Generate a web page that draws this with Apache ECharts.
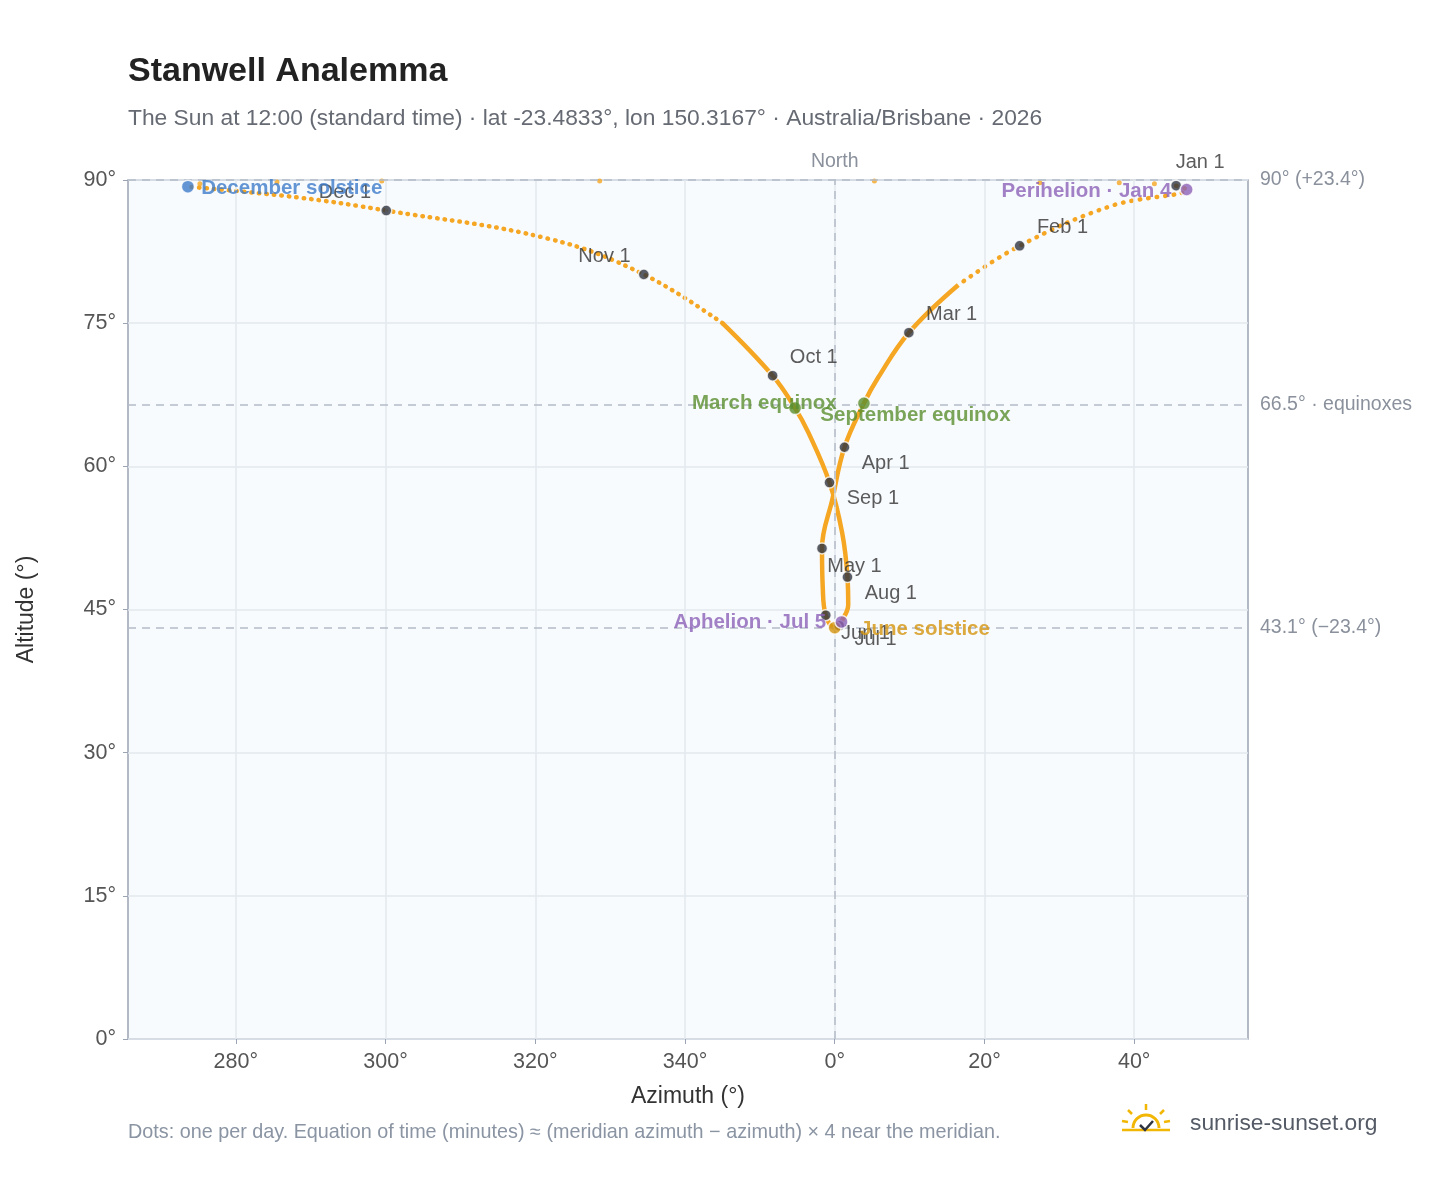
<!DOCTYPE html>
<html><head><meta charset="utf-8">
<script src="https://cdn.jsdelivr.net/npm/echarts@6/dist/echarts.min.js"></script>
<style>html,body{margin:0;padding:0;background:#fff}#c{width:1448px;height:1188px}</style>
</head><body><div id="c"></div>
<script>
// Path of the sun (azimuth unwrapped: negative = west of north, altitude), Jan 1 -> Dec 21
const pathAz  = [45.6, 47.0, 37.0, 24.7, 16.5, 9.9, 5.8, 3.9, 1.3, -0.3, -1.7, -1.6, -1.2, 0.0, 0.6, 0.9, 1.8, 1.7, 1.0, -0.7, -3.5, -5.3, -8.3, -15.0, -25.5, -38.0, -59.9, -72.0, -86.4];
const pathAlt = [89.4, 89.0, 87.3, 83.1, 79.0, 74.0, 69.3, 66.6, 62.0, 56.6, 51.4, 47.3, 44.4, 43.1, 43.3, 43.7, 45.5, 48.4, 53.0, 58.3, 63.5, 66.1, 69.5, 75.0, 80.1, 83.8, 86.8, 88.2, 89.3];
// Late-December days near the zenith
const topAz  = [-84.8, -74.5, -60.5, -31.4, 5.3, 27.4, 38.0, 42.7];
const topAlt = [89.6, 89.8, 89.9, 89.9, 89.9, 89.7, 89.7, 89.6];
// Month markers
const monthNames = ['Jan 1','Feb 1','Mar 1','Apr 1','May 1','Jun 1','Jul 1','Aug 1','Sep 1','Oct 1','Nov 1','Dec 1'];
const monthAz  = [45.6, 24.7, 9.9, 1.3, -1.7, -1.2, 0.6, 1.7, -0.7, -8.3, -25.5, -59.9];
const monthAlt = [89.4, 83.1, 74.0, 62.0, 51.4, 44.4, 43.3, 48.4, 58.3, 69.5, 80.1, 86.8];
// Events
const eventNames = ['December solstice','Perihelion · Jan 4','March equinox','September equinox','June solstice','Aphelion · Jul 5'];
const eventAz  = [-86.4, 47.0, 3.9, -5.3, 0.0, 0.9];
const eventAlt = [89.3, 89.0, 66.6, 66.1, 43.1, 43.7];
const xTicks = [-80, -60, -40, -20, 0, 20, 40];
const refLines = [90, 66.5, 43.1];
const refLabels = ['90° (+23.4°)', '66.5° · equinoxes', '43.1° (−23.4°)'];

const ch = echarts.init(document.getElementById('c'));
const F = 'Liberation Sans, Arial, sans-serif';
const evColor = ['#3d7cc9','#8c62b8','#5a8f2e','#5a8f2e','#d4950e','#8c62b8'];
const evLabel = [
  {position:'right', distance:6, offset:[0,2]},
  {position:'left', distance:8, offset:[0,2]},
  {position:'left', distance:20},
  {position:'right', distance:18, offset:[0,7]},
  {position:'right', distance:6, offset:[12,2]},
  {position:'left', distance:8}
];
const monLabel = [
  {position:'top', offset:[24,-2]},
  {position:'right', offset:[6,-18]},
  {position:'right', offset:[6,-18]},
  {position:'right', offset:[6,16]},
  {position:'right', offset:[-6,18]},
  {position:'right', offset:[4,18]},
  {position:'right', offset:[4,14]},
  {position:'right', offset:[6,16]},
  {position:'right', offset:[6,16]},
  {position:'right', offset:[6,-18]},
  {position:'left', offset:[-2,-18]},
  {position:'left', offset:[-4,-18]}
];
const seg = (a,b)=>pathAz.slice(a,b).map((v,i)=>[v,pathAlt[a+i]]);
const grid = {left:128, right:200, top:180, bottom:149};
ch.setOption({
  animation:false,
  textStyle:{fontFamily:F},
  title:[
    {text:'Stanwell Analemma', left:123, top:50, textStyle:{fontSize:34, fontWeight:'bold', color:'#222', fontFamily:F}},
    {text:'The Sun at 12:00 (standard time) · lat -23.4833°, lon 150.3167° · Australia/Brisbane · 2026', left:123, top:102, textStyle:{fontSize:22.8, fontWeight:'normal', color:'#666a73', fontFamily:F}}
  ],
  grid: Object.assign({show:true, backgroundColor:'#f8fbfe', borderColor:'#9aa4b2', borderWidth:1.5}, grid),
  xAxis:{type:'value', min:-94.4, max:55.2, name:'Azimuth (°)', nameLocation:'middle', nameGap:46,
    nameTextStyle:{fontSize:23, color:'#333'},
    axisLine:{show:false, onZero:false}, axisTick:{show:true, customValues:xTicks, lineStyle:{color:'#9aa4b2'}},
    axisLabel:{customValues:xTicks, fontSize:21.5, color:'#555', margin:12, formatter:v=>(((v%360)+360)%360)+'°'},
    splitLine:{show:false}},
  yAxis:{type:'value', min:0, max:90, interval:15, name:'Altitude (°)', nameLocation:'middle', nameGap:90,
    nameTextStyle:{fontSize:23, color:'#333'},
    axisLine:{show:false, onZero:false}, axisTick:{show:true, lineStyle:{color:'#9aa4b2'}},
    axisLabel:{fontSize:21.5, color:'#555', margin:12, formatter:v=>v+'°'},
    splitLine:{lineStyle:{color:'#e3e8ee', width:1.5}}},
  series:[
    {type:'line', silent:true, data:[], symbol:'none',
     markLine:{silent:true, symbol:'none', label:{show:false},
       lineStyle:{color:'#e3e8ee', type:'solid', width:1.5},
       data: xTicks.map(v=>({xAxis:v}))}},
    {type:'line', silent:true, data:[], symbol:'none',
     markLine:{silent:true, symbol:'none',
       lineStyle:{color:'#b4bcc7', type:[8,6], width:1.5},
       data: refLines.map((v,i)=>({yAxis:v, label:{show:true, position:'end', formatter:refLabels[i], color:'#8a919c', fontSize:19.5, distance:12}}))
         .concat([{xAxis:0, label:{show:true, position:'end', formatter:'North', color:'#8a919c', fontSize:19.5, distance:8}}])}},
    {type:'line', smooth:0.4, symbol:'none', data: seg(0,5), lineStyle:{color:'#f5a623', width:4.5, type:[0.5,8], cap:'round'}, z:3},
    {type:'line', smooth:0.4, symbol:'none', data: seg(4,24), lineStyle:{color:'#f5a623', width:4.5}, z:3},
    {type:'line', smooth:0.4, symbol:'none', data: seg(23,29), lineStyle:{color:'#f5a623', width:4.5, type:[0.5,7], cap:'round'}, z:3},
    {type:'scatter', symbolSize:5, data: topAz.map((v,i)=>[v,topAlt[i]]), itemStyle:{color:'#f5a623'}, z:3},
    {type:'scatter', symbolSize:11, z:5,
     data: monthAz.map((v,i)=>({value:[v,monthAlt[i]], label:Object.assign({show:true, formatter:monthNames[i], color:'#333', fontSize:20}, monLabel[i])})),
     itemStyle:{color:'#2e3440', borderColor:'#fff', borderWidth:1.5}},
    {type:'scatter', symbolSize:13, z:6,
     data: eventAz.map((v,i)=>({value:[v,eventAlt[i]], itemStyle:{color:evColor[i]},
       label:Object.assign({show:true, formatter:eventNames[i], color:evColor[i], fontSize:20.5, fontWeight:'bold'}, evLabel[i])})),
     itemStyle:{borderColor:'#fff', borderWidth:1.5}}
  ],
  graphic:[
    {type:'text', left:128, top:1123, style:{text:'Dots: one per day. Equation of time (minutes) ≈ (meridian azimuth − azimuth) × 4 near the meridian.', fill:'#8a94a3', fontSize:19.8, fontFamily:F}},
    {type:'text', left:1190, top:1112, style:{text:'sunrise-sunset.org', fill:'#555b66', fontSize:22.8, fontFamily:F}},
    {type:'arc', shape:{cx:1146, cy:1128, r:13, startAngle:Math.PI, endAngle:2*Math.PI}, style:{stroke:'#f2b705', lineWidth:3, fill:null}},
    {type:'line', shape:{x1:1122,y1:1130,x2:1170,y2:1130}, style:{stroke:'#f2b705', lineWidth:2.5}},
    {type:'line', shape:{x1:1146,y1:1104,x2:1146,y2:1110}, style:{stroke:'#f2b705', lineWidth:2.5}},
    {type:'line', shape:{x1:1128,y1:1110,x2:1132,y2:1114}, style:{stroke:'#f2b705', lineWidth:2.5}},
    {type:'line', shape:{x1:1164,y1:1110,x2:1160,y2:1114}, style:{stroke:'#f2b705', lineWidth:2.5}},
    {type:'line', shape:{x1:1122,y1:1121,x2:1128,y2:1122}, style:{stroke:'#f2b705', lineWidth:2.5}},
    {type:'line', shape:{x1:1170,y1:1121,x2:1164,y2:1122}, style:{stroke:'#f2b705', lineWidth:2.5}},
    {type:'polyline', shape:{points:[[1140,1125],[1145,1130],[1153,1121]]}, style:{stroke:'#2e3440', lineWidth:2.5, fill:null}}
  ]
});
</script></body></html>
